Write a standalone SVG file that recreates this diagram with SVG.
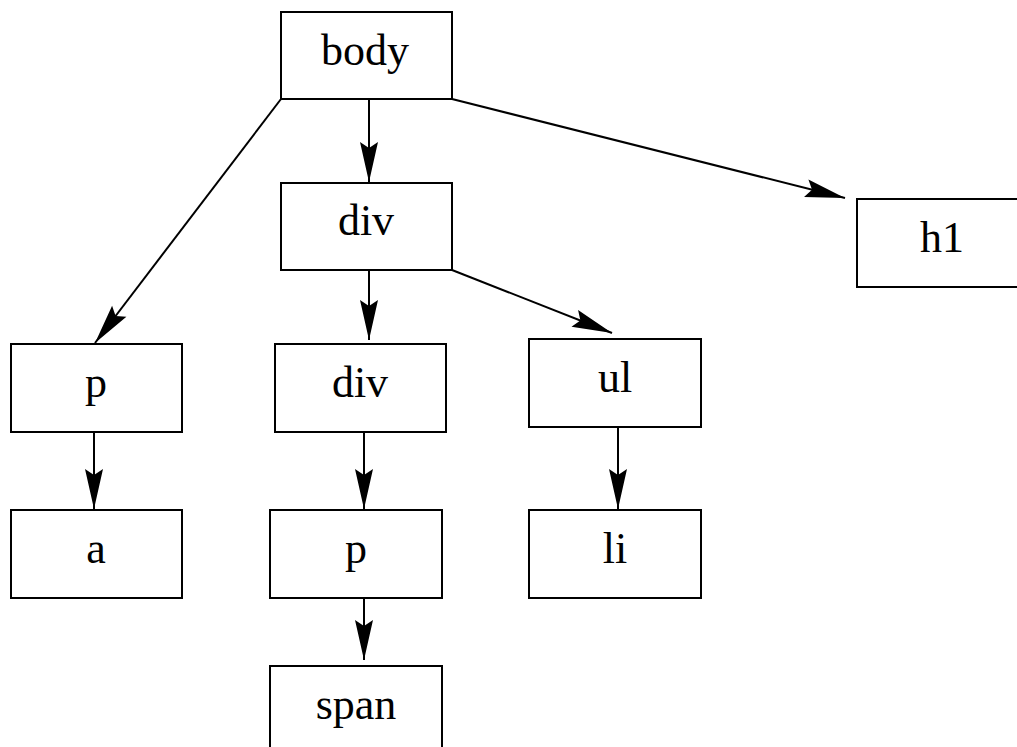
<svg xmlns="http://www.w3.org/2000/svg" width="1017" height="747" viewBox="0 0 1017 747">
<style>
.box{fill:#fff;stroke:#000;stroke-width:2}
.lbl{font-family:"Liberation Serif","Times New Roman",serif;font-size:44px;fill:#000;text-anchor:middle}
.edge{stroke:#000;stroke-width:2;fill:none;marker-end:url(#ah)}
</style>
<defs>
<marker id="ah" markerUnits="userSpaceOnUse" markerWidth="44" markerHeight="22" viewBox="-42 -11 44 22" refX="0" refY="0" orient="auto">
<path d="M0,0 L-40,-9 L-34,0 L-40,9 Z" fill="#000"/>
</marker>
</defs>
<rect width="1017" height="747" fill="#fff"/>
<g id="connectors">
<line class="edge" x1="369" y1="99" x2="369" y2="182"/>
<line class="edge" x1="281" y1="99" x2="95" y2="343"/>
<line class="edge" x1="452" y1="99" x2="845" y2="198"/>
<line class="edge" x1="369" y1="270" x2="369" y2="340"/>
<line class="edge" x1="452" y1="270" x2="612" y2="333"/>
<line class="edge" x1="94" y1="432" x2="94" y2="509"/>
<line class="edge" x1="364" y1="432" x2="364" y2="509"/>
<line class="edge" x1="618" y1="427" x2="618" y2="509"/>
<line class="edge" x1="364" y1="598" x2="364" y2="660"/>
</g>
<g id="body"><rect class="box" x="281" y="12" width="171" height="87"/><text class="lbl" x="365" y="65">body</text></g>
<g id="div1"><rect class="box" x="281" y="183" width="171" height="87"/><text class="lbl" x="366" y="235">div</text></g>
<g id="h1"><rect class="box" x="857" y="199" width="171" height="88"/><text class="lbl" x="942" y="252">h1</text></g>
<g id="p1"><rect class="box" x="11" y="344" width="171" height="88"/><text class="lbl" x="96" y="397">p</text></g>
<g id="div2"><rect class="box" x="275" y="344" width="171" height="88"/><text class="lbl" x="360" y="397">div</text></g>
<g id="ul"><rect class="box" x="529" y="339" width="172" height="88"/><text class="lbl" x="615" y="392">ul</text></g>
<g id="a"><rect class="box" x="11" y="510" width="171" height="88"/><text class="lbl" x="96" y="563">a</text></g>
<g id="p2"><rect class="box" x="270" y="510" width="172" height="88"/><text class="lbl" x="356" y="563">p</text></g>
<g id="li"><rect class="box" x="529" y="510" width="172" height="88"/><text class="lbl" x="615" y="563">li</text></g>
<g id="span"><rect class="box" x="270" y="666" width="172" height="88"/><text class="lbl" x="356" y="719">span</text></g>
</svg>
